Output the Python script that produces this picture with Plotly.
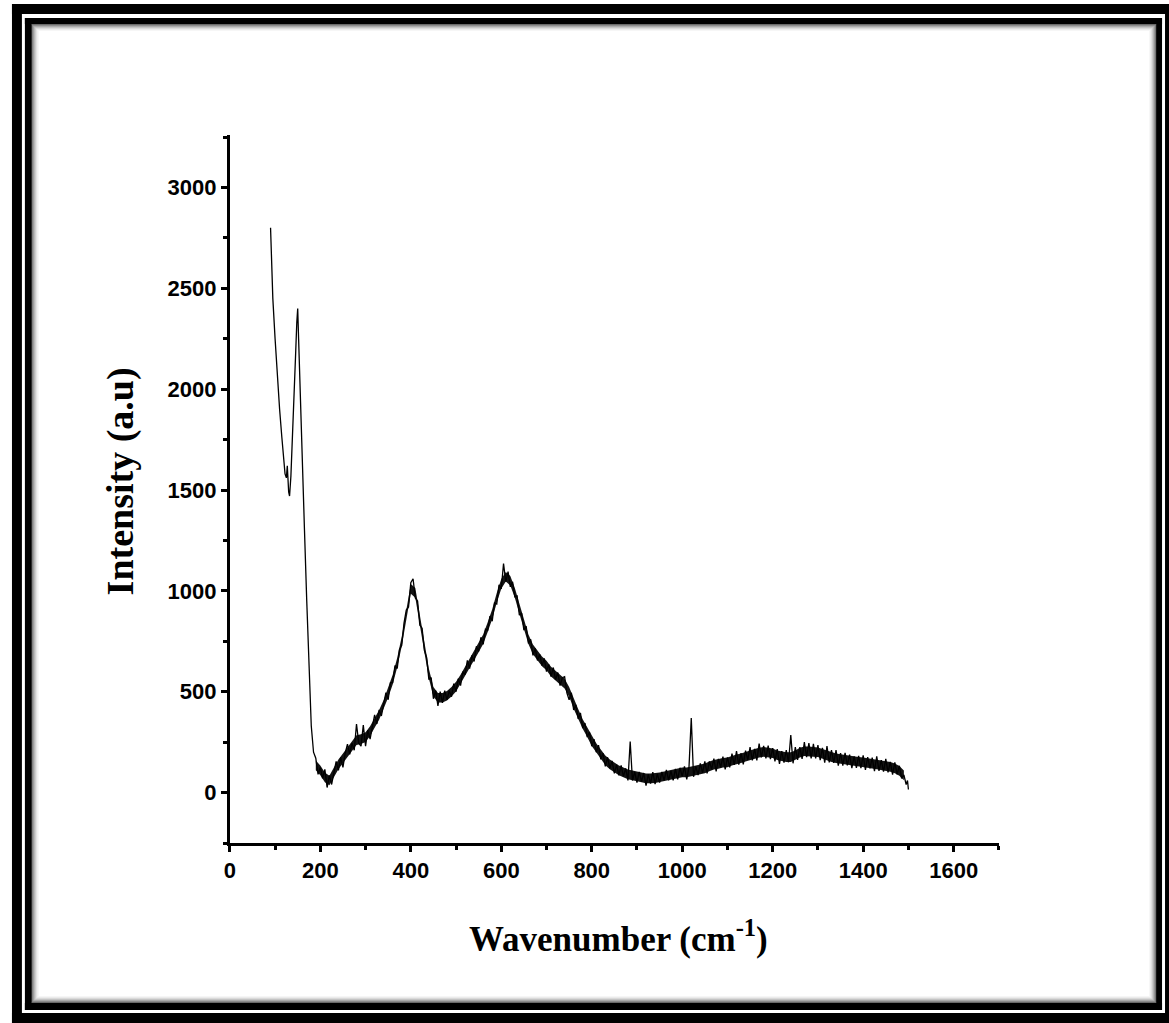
import plotly.graph_objects as go

# ---------------- data ----------------
wn_lattice = [90, 95, 100, 105, 110, 115, 120, 122, 125, 127, 130, 132, 135, 140, 145,
              148, 150, 152, 155, 160, 165, 170, 175, 180, 185]
int_lattice = [2800, 2450, 2250, 2050, 1900, 1760, 1650, 1580, 1560, 1620, 1490, 1470, 1570, 1820, 2150,
               2330, 2400, 2250, 2000, 1650, 1300, 950, 640, 330, 200]

wn_bands = [
    190, 195, 200, 205, 210, 215, 220, 225, 230, 235, 240, 245, 250, 255, 260, 265, 270, 275, 280, 285,
    290, 295, 300, 305, 310, 315, 320, 325, 330, 335, 340, 345, 350, 355, 360, 365, 370, 375, 380, 385,
    390, 395, 400, 405, 410, 415, 420, 425, 430, 435, 440, 445, 450, 455, 460, 465, 470, 475, 480, 485,
    490, 495, 500, 505, 510, 515, 520, 525, 530, 535, 540, 545, 550, 555, 560, 565, 570, 575, 580, 585,
    590, 595, 600, 605, 610, 615, 620, 625, 630, 635, 640, 645, 650, 655, 660, 665, 670, 675, 680, 685,
    690, 695, 700, 705, 710, 715, 720, 725, 730, 735, 740, 745, 750, 755, 760, 765, 770, 775, 780, 785,
    790, 795, 800, 805, 810, 815, 820, 825, 830, 835, 840, 845, 850, 855, 860, 865, 870, 875, 880, 885,
]
int_bands = [
    170, 90, 125, 70, 115, 25, 85, 40, 105, 155, 110, 175, 125, 195, 240, 190, 245, 210, 340, 245,
    230, 335, 230, 310, 265, 335, 385, 340, 410, 380, 440, 495, 460, 545, 545, 630, 615, 710, 730, 840,
    905, 920, 1040, 1060, 965, 950, 830, 815, 705, 670, 560, 570, 465, 505, 430, 500, 445, 505, 460, 505,
    475, 540, 500, 565, 530, 600, 585, 655, 615, 680, 650, 725, 700, 770, 735, 810, 805, 875, 850, 940,
    935, 1030, 1010, 1135, 1045, 1095, 1020, 1045, 970, 975, 880, 890, 805, 825, 740, 760, 680, 715, 655, 685,
    630, 665, 600, 635, 575, 620, 560, 595, 530, 570, 575, 495, 460, 495, 410, 435, 365, 395, 320, 345,
    275, 300, 230, 265, 200, 235, 165, 195, 130, 175, 120, 157, 95, 138, 85, 135, 80, 120, 60, 253,
]

wn_tail = [
    890, 895, 900, 905, 910, 915, 920, 925, 930, 935, 940, 945, 950, 955, 960, 965, 970, 975, 980, 985,
    990, 995, 1000, 1005, 1010, 1015, 1020, 1025, 1030, 1035, 1040, 1045, 1050, 1055, 1060, 1065, 1070, 1075, 1080, 1085,
    1090, 1095, 1100, 1105, 1110, 1115, 1120, 1125, 1130, 1135, 1140, 1145, 1150, 1155, 1160, 1165, 1170, 1175, 1180, 1185,
    1190, 1195, 1200, 1205, 1210, 1215, 1220, 1225, 1230, 1235, 1240, 1245, 1250, 1255, 1260, 1265, 1270, 1275, 1280, 1285,
    1290, 1295, 1300, 1305, 1310, 1315, 1320, 1325, 1330, 1335, 1340, 1345, 1350, 1355, 1360, 1365, 1370, 1375, 1380, 1385,
    1390, 1395, 1400, 1405, 1410, 1415, 1420, 1425, 1430, 1435, 1440, 1445, 1450, 1455, 1460, 1465, 1470, 1475, 1480, 1485,
    1490, 1495, 1498, 1500,
]
int_tail = [
    60, 102, 50, 103, 55, 97, 35, 90, 45, 101, 42, 93, 50, 103, 60, 112, 60, 108, 60, 117,
    65, 123, 80, 130, 65, 127, 370, 78, 130, 87, 145, 98, 155, 95, 155, 115, 168, 105, 167, 125,
    178, 115, 175, 125, 193, 137, 205, 138, 195, 140, 208, 162, 225, 160, 217, 160, 243, 175, 232, 170,
    233, 166, 220, 155, 215, 142, 205, 148, 211, 150, 285, 145, 225, 162, 225, 167, 250, 175, 245, 169,
    242, 170, 235, 161, 222, 148, 230, 150, 211, 147, 210, 133, 196, 134, 197, 135, 188, 121, 180, 123,
    182, 121, 185, 113, 176, 120, 173, 106, 180, 108, 161, 104, 167, 100, 152, 89, 150, 90, 133, 70,
    88, 40, 60, 15,
]

# centre of the dense noise band of the spectrum (every 10 cm-1) and its half width
band_wn = [
    190, 200, 210, 220, 230, 240, 250, 260, 270, 280, 290, 300, 310, 320, 330, 340, 350, 360, 370, 380,
    390, 400, 410, 420, 430, 440, 450, 460, 470, 480, 490, 500, 510, 520, 530, 540, 550, 560, 570, 580,
    590, 600, 610, 620, 630, 640, 650, 660, 670, 680, 690, 700, 710, 720, 730, 740, 750, 760, 770, 780,
    790, 800, 810, 820, 830, 840, 850, 860, 870, 880, 890, 900, 910, 920, 930, 940, 950, 960, 970, 980,
    990, 1000, 1010, 1020, 1030, 1040, 1050, 1060, 1070, 1080, 1090, 1100, 1110, 1120, 1130, 1140, 1150, 1160, 1170, 1180,
    1190, 1200, 1210, 1220, 1230, 1240, 1250, 1260, 1270, 1280, 1290, 1300, 1310, 1320, 1330, 1340, 1350, 1360, 1370, 1380,
    1390, 1400, 1410, 1420, 1430, 1440, 1450, 1460, 1470, 1480, 1490,
]
band_centre = [
    135, 110, 75, 60, 100, 140, 170, 200, 230, 260, 265, 275, 305, 345, 385, 435, 495, 560, 645, 750,
    880, 1010, 990, 860, 720, 590, 500, 470, 470, 480, 500, 525, 560, 600, 640, 680, 720, 760, 820, 885,
    965, 1035, 1070, 1050, 990, 910, 830, 760, 710, 680, 650, 630, 600, 580, 560, 540, 500, 440, 390, 340,
    300, 255, 220, 190, 160, 140, 125, 110, 100, 90, 85, 80, 75, 70, 70, 72, 75, 80, 85, 90,
    95, 100, 100, 105, 110, 115, 120, 130, 138, 142, 148, 150, 158, 165, 170, 178, 185, 192, 198, 202,
    198, 195, 185, 180, 176, 176, 185, 198, 205, 205, 202, 200, 192, 185, 176, 170, 166, 162, 158, 155,
    152, 150, 146, 143, 140, 136, 132, 127, 120, 108, 85,
]
band_halfwidth = 24

x_ticks = [0, 200, 400, 600, 800, 1000, 1200, 1400, 1600]
y_ticks = [0, 500, 1000, 1500, 2000, 2500, 3000]

# ---------------- figure ----------------
W, H = 1169, 1023

def px(x):
    return x / W

def py(y):
    return 1 - y / H

wavenumber = wn_lattice + wn_bands + wn_tail
intensity = int_lattice + int_bands + int_tail

band_upper = [c + band_halfwidth for c in band_centre]
band_lower = [c - band_halfwidth for c in band_centre]

fig = go.Figure()
fig.add_trace(go.Scatter(x=band_wn + band_wn[::-1], y=band_upper + band_lower[::-1],
                         mode="lines", fill="toself", fillcolor="rgba(0,0,0,0.92)",
                         line=dict(width=0), showlegend=False, hoverinfo="skip"))
fig.add_trace(go.Scatter(x=wavenumber, y=intensity, mode="lines",
                         line=dict(color="black", width=1.3), showlegend=False,
                         hoverinfo="skip"))

tickfont = dict(family="Liberation Sans, Arial, sans-serif", size=22, color="black", weight="bold")

fig.update_layout(
    width=W, height=H,
    margin=dict(l=0, r=0, t=0, b=0),
    paper_bgcolor="white", plot_bgcolor="white",
    xaxis=dict(domain=[px(225), px(998)], range=[0, 1700],
               showline=True, linewidth=3, linecolor="black", mirror=False,
               showgrid=False, zeroline=False,
               ticks="outside", ticklen=6, tickwidth=3, tickcolor="black",
               tickvals=x_ticks, ticktext=[str(v) for v in x_ticks],
               minor=dict(ticks="outside", ticklen=4, tickwidth=3, tickcolor="black", dtick=100, tick0=0),
               tickfont=tickfont, anchor="y"),
    yaxis=dict(domain=[py(843), py(135)], range=[-250, 3260],
               showline=True, linewidth=3, linecolor="black", mirror=False,
               showgrid=False, zeroline=False,
               ticks="outside", ticklen=6, tickwidth=3, tickcolor="black",
               tickvals=y_ticks, ticktext=[str(v) for v in y_ticks],
               minor=dict(ticks="outside", ticklen=4, tickwidth=3, tickcolor="black", dtick=250, tick0=0),
               tickfont=tickfont, anchor="x"),
)

titlefont = dict(family="Liberation Serif, Times New Roman, serif", size=35, color="black", weight="bold")
fig.add_annotation(text="Wavenumber (cm<sup>-1</sup>)", xref="paper", yref="paper",
                   x=px(616), y=py(936), xanchor="center", yanchor="middle",
                   showarrow=False, font=titlefont)
fig.add_annotation(text="Intensity (a.u)", xref="paper", yref="paper",
                   x=px(115), y=py(481), xanchor="center", yanchor="middle",
                   textangle=-90, showarrow=False,
                   font=dict(family="Liberation Serif, Times New Roman, serif", size=38,
                             color="black", weight="bold"))

# ---------------- decorative frame ----------------
def band(x0, y0, x1, y1, color):
    fig.add_shape(type="rect", xref="paper", yref="paper",
                  x0=px(x0), x1=px(x1), y0=py(y1), y1=py(y0),
                  fillcolor=color, line=dict(width=0), layer="above")

# outer black band
band(6, 4, 16, 1023, "black")
band(6, 4, 1169, 14, "black")
band(1165, 4, 1169, 1023, "black")
band(6, 1013, 1169, 1023, "black")
# inner black band
band(19, 18, 26, 1010, "black")
band(19, 18, 1162, 24, "black")
band(1156, 18, 1162, 1010, "black")
band(19, 1003, 1162, 1010, "black")
# soft inner shadow
shades = ["#6a6a6a", "#8c8c8c", "#aaaaaa", "#c4c4c4", "#dadada", "#ebebeb", "#f6f6f6"]
for i, c in enumerate(shades):
    x0, y0, x1, y1 = 26 + i, 24 + i, 1156 - i, 1003 - i
    band(x0, y0, x0 + 1, y1, c)
    band(x0, y0, x1, y0 + 1, c)
    band(x1 - 1, y0, x1, y1, c)
    band(x0, y1 - 1, x1, y1, c)

fig.write_html("out.html", config={"displayModeBar": False},
               post_script="document.body.style.margin='0';document.body.style.overflow='hidden';")
